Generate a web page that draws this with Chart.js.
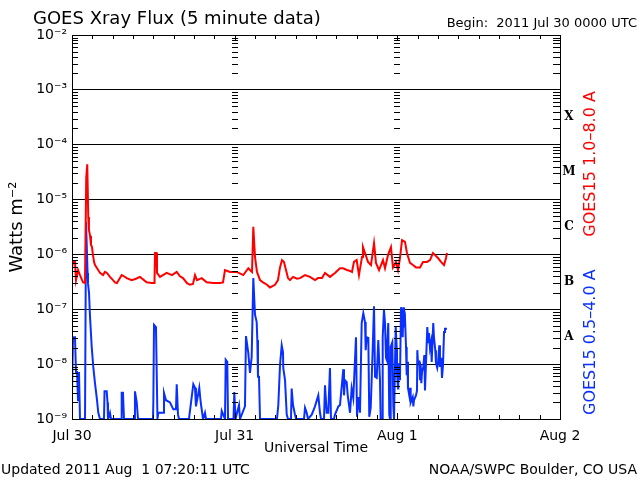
<!DOCTYPE html>
<html>
<head>
<meta charset="utf-8">
<title>GOES Xray Flux</title>
<script src="https://cdn.jsdelivr.net/npm/chart.js@4.4.1/dist/chart.umd.min.js"></script>
<style>
  html, body { margin: 0; padding: 0; background: #ffffff; }
  canvas { display: block; }
</style>
</head>
<body>
<canvas id="xrayChart" width="640" height="480"></canvas>
<script>
/* GOES 15 X-ray flux, 2011 Jul 30 00:00 UTC onward (hours since start) */

const DAY_LABELS = ["Jul 30", "Jul 31", "Aug 1", "Aug 2"];
const DECADES = [-9, -8, -7, -6, -5, -4, -3, -2];
const FLARE_CLASSES = ["A", "B", "C", "M", "X"];

// GOES15 1.0-8.0 A (long channel)
const RED_HOURS = [
  0.0, 0.15, 0.44, 0.59, 0.89, 1.18, 1.62, 1.92, 2.0, 2.1, 2.25, 2.4, 2.5, 2.66, 2.8, 2.95,
  3.1, 3.25, 3.4, 3.7, 4.13, 4.57, 4.87, 5.16, 5.6, 6.05, 6.34, 6.64, 7.33, 7.67, 8.07, 8.81,
  9.44, 10.03, 11.02, 11.76, 12.17, 12.25, 12.47, 12.54, 12.98, 13.97, 14.75, 15.45, 15.93,
  16.38, 16.97, 17.41, 17.85, 18.15, 18.44, 19.14, 19.87, 20.85, 21.84, 22.28, 22.57, 23.31,
  24.3, 25.27, 26.01, 26.26, 26.56, 26.75, 27.0, 27.29, 27.74, 28.18, 28.77, 29.21, 29.95,
  30.39, 30.69, 30.98, 31.28, 31.57, 31.87, 32.16, 32.61, 33.2, 33.64, 34.38, 35.11, 35.85,
  36.29, 36.88, 37.33, 38.06, 38.8, 39.54, 39.98, 40.57, 41.02, 41.31, 41.6, 42.0, 42.34,
  42.79, 42.93, 43.23, 43.67, 44.11, 44.56, 44.85, 45.3, 45.88, 46.18, 46.62, 47.06, 47.36,
  47.8, 48.1, 48.39, 48.69, 49.13, 49.42, 49.87, 50.31, 50.75, 51.34, 51.79, 52.38, 52.82,
  53.26, 53.56, 54.0, 54.44, 54.89, 55.18, 55.33
];
const RED_FLUX = [
  5.6e-7, 7.3e-7, 7.3e-7, 3.4e-7, 5.2e-7, 4.2e-7, 3.1e-7, 3.0e-7, 3.0e-7, 2.5e-5, 4.4e-5, 4.8e-6, 2.8e-6, 2.2e-6, 1.5e-6, 1.36e-6,
  9.7e-7, 7.3e-7, 6.4e-7, 5.6e-7, 4.6e-7, 4.2e-7, 4.8e-7, 4.6e-7, 3.9e-7, 3.4e-7, 3.1e-7, 3.0e-7, 4.2e-7, 4.0e-7, 3.7e-7, 3.4e-7,
  3.6e-7, 3.9e-7, 3.1e-7, 3.0e-7, 3.0e-7, 1.06e-6, 1.06e-6, 4.6e-7, 3.9e-7, 4.6e-7, 4.2e-7, 4.8e-7, 4.0e-7,
  3.7e-7, 3.0e-7, 2.8e-7, 2.9e-7, 4.2e-7, 3.4e-7, 3.7e-7, 3.1e-7, 3.0e-7, 3.0e-7, 3.1e-7, 5.2e-7, 4.8e-7,
  4.8e-7, 4.2e-7, 5.6e-7, 5.2e-7, 4.8e-7, 3.2e-6, 9.0e-7, 4.8e-7, 3.4e-7, 3.1e-7, 2.8e-7, 2.5e-7, 2.8e-7,
  3.4e-7, 5.8e-7, 7.9e-7, 7.3e-7, 5.2e-7, 3.7e-7, 3.4e-7, 3.9e-7, 3.6e-7, 3.7e-7, 4.2e-7, 3.9e-7, 3.4e-7,
  3.7e-7, 3.7e-7, 4.6e-7, 3.9e-7, 4.6e-7, 5.6e-7, 5.6e-7, 5.2e-7, 5.0e-7, 4.8e-7, 7.3e-7, 7.9e-7, 4.2e-7,
  9.0e-7, 1.36e-6, 1.06e-6, 7.3e-7, 6.4e-7, 1.6e-6, 7.0e-7, 5.2e-7, 7.9e-7, 5.6e-7, 9.7e-7, 1.36e-6, 5.8e-7,
  7.3e-7, 5.2e-7, 8.6e-7, 1.83e-6, 1.7e-6, 1.06e-6, 7.0e-7, 6.4e-7, 5.8e-7, 5.8e-7, 7.3e-7, 7.3e-7, 7.9e-7,
  1.06e-6, 9.7e-7, 8.6e-7, 7.3e-7, 6.4e-7, 8.6e-7, 1.06e-6
];

// GOES15 0.5-4.0 A (short channel), floor values sit on 1e-9
const BLUE_HOURS = [
  0.0, 0.15, 0.44, 0.59, 0.74, 0.89, 1.03, 1.18, 1.92, 2.07, 2.3, 2.36, 2.51, 2.66, 2.91, 3.14,
  3.39, 3.69, 3.88, 4.13, 4.72, 4.8, 5.12, 5.24, 5.31, 5.6, 5.75, 7.23, 7.33, 7.52, 7.67, 9.15,
  9.29, 9.55, 9.74, 11.95, 12.0, 12.1, 12.39, 12.5, 12.61, 12.73, 13.43, 13.57, 13.87, 14.46,
  14.95, 15.34, 15.45, 15.64, 15.79, 17.26, 17.3, 17.9, 18.15, 18.29, 18.78, 18.99, 19.33, 19.62,
  19.77, 21.98, 22.09, 22.57, 22.68, 22.91, 23.02, 23.83, 23.95, 24.12, 24.64, 24.79, 25.52,
  25.67, 26.01, 26.26, 26.51, 26.75, 27.0, 27.25, 27.34, 27.44, 27.59, 27.74, 30.24, 30.44,
  30.69, 30.94, 31.13, 31.17, 31.43, 31.68, 31.87, 32.31, 32.41, 32.61, 32.9, 33.05, 34.23,
  34.38, 34.63, 34.82, 35.37, 35.85, 36.34, 36.59, 36.74, 37.18, 37.33, 37.58, 37.81, 38.06,
  38.21, 38.65, 38.8, 39.3, 39.54, 40.03, 40.13, 40.28, 40.53, 40.68, 40.87, 41.02, 41.26,
  41.5, 41.9, 42.05, 42.24, 42.49, 42.74, 42.98, 43.23, 43.33, 43.48, 43.72, 43.86, 44.07,
  44.36, 44.56, 44.71, 44.96, 45.19, 45.44, 45.54, 45.74, 45.84, 46.03, 46.18, 46.33, 46.43,
  46.66, 46.81, 46.92, 47.02, 47.26, 47.41, 47.51, 47.76, 47.91, 47.95, 48.1, 48.14, 48.29,
  48.39, 48.54, 48.69, 48.79, 48.88, 48.98, 49.13, 49.28, 49.38, 49.5, 49.57, 49.76, 49.87,
  49.97, 50.27, 50.36, 50.46, 50.75, 50.9, 50.95, 51.05, 51.24, 51.34, 51.45, 51.54, 51.64,
  51.83, 51.98, 52.08, 52.23, 52.42, 52.57, 52.67, 52.82, 52.97, 53.07, 53.3, 53.41, 53.6,
  53.7, 53.89, 54.0, 54.19, 54.29, 54.48, 54.59, 54.74, 54.89, 55.03, 55.33
];
const BLUE_FLUX = [
  3.0e-9, 3.1e-8, 3.1e-8, 7.2e-9, 7.2e-9, 2.2e-9, 7.2e-9, 1e-9, 1e-9, 3.9e-6, 4.6e-7, 3.0e-7, 2.0e-7, 7.2e-8, 2.05e-8, 8.9e-9,
  4.5e-9, 2.2e-9, 1.3e-9, 1e-9, 1e-9, 3.2e-9, 3.2e-9, 2.0e-9, 1e-9, 1.3e-9, 1e-9, 1e-9, 3.0e-9, 3.0e-9, 1e-9, 1e-9,
  3.2e-9, 2.0e-9, 1e-9, 1e-9, 2.0e-9, 5.2e-8, 4.75e-8, 6.9e-9, 1e-9, 1.3e-9, 1.3e-9, 3.0e-9, 2.2e-9, 2.0e-9,
  1.5e-9, 1.5e-9, 4.3e-9, 1.2e-9, 1e-9, 1e-9, 1.1e-9, 4.3e-9, 3.7e-9, 1.7e-9, 3.7e-9, 2.0e-9, 1e-9, 1.3e-9,
  1e-9, 1e-9, 1.4e-9, 1e-9, 1.2e-8, 1.1e-8, 1e-9, 1e-9, 3.1e-9, 1e-9, 1.8e-9, 1e-9, 1.7e-9,
  3.25e-8, 1.6e-8, 6.9e-9, 1.35e-8, 3.7e-7, 8.0e-8, 5.85e-8, 2.75e-8, 5.9e-9, 5.9e-9, 1e-9, 1e-9, 1.8e-9,
  9.6e-9, 2.2e-8, 1.66e-8, 8.5e-9, 5.1e-9, 1.2e-9, 1e-9, 1e-9, 3.6e-9, 1.8e-9, 1.2e-9, 1e-9, 1e-9,
  1.6e-9, 1.3e-9, 1e-9, 1.2e-9, 1.7e-9, 2.7e-9, 1.3e-9, 1e-9, 1e-9, 4.1e-9, 1.3e-9, 1.3e-9, 8.5e-9,
  1e-9, 1e-9, 1.2e-9, 1.7e-9, 1.8e-9, 8.1e-9, 2.7e-9, 5.1e-9, 4.7e-9, 2.7e-9, 1.8e-9, 1.3e-9, 3.6e-9,
  2.4e-9, 3.1e-8, 1.1e-9, 2.5e-9, 1.3e-9, 5.6e-8, 8.5e-8, 5.85e-8, 1.8e-8, 3.1e-8, 3.0e-8, 1.1e-9, 1.6e-9,
  1.8e-8, 1.14e-7, 5.9e-9, 5.6e-9, 2.75e-8, 5.1e-9, 1.0e-9, 1e-9, 3.1e-8, 9.8e-8, 5.6e-8, 1.3e-8, 1.2e-8,
  5.6e-8, 1.2e-9, 1e-9, 2.05e-8, 2.5e-8, 1.7e-9, 1e-9, 4.75e-8, 1.97e-8, 6.9e-9, 3.6e-9, 6.3e-9, 1.05e-8,
  5.1e-9, 1.09e-7, 8.5e-8, 3.1e-8, 1.09e-7, 5.6e-8, 6.9e-8, 2.05e-8, 6.3e-9, 1.1e-8, 3.7e-9, 2.7e-9, 3.7e-9,
  2.0e-9, 2.5e-9, 1.7e-9, 2.2e-9, 2.7e-9, 3.3e-9, 1.8e-8, 1.05e-8, 1.1e-8, 5.1e-9, 9.6e-9, 4.5e-9, 7.2e-9,
  8.9e-9, 1.47e-8, 3.3e-9, 1.05e-8, 4.75e-8, 2.5e-8, 3.7e-8, 1.97e-8, 2.5e-8, 1.1e-8, 5.6e-8, 3.0e-8, 1.8e-8,
  1.05e-8, 8.5e-9, 1.05e-8, 2.2e-8, 8.9e-9, 1.3e-8, 5.6e-9, 9.6e-9, 3.85e-8, 4.4e-8, 4.4e-8
];

const SUPERSCRIPT = { "-": "\u207B", "0": "\u2070", "1": "\u00B9", "2": "\u00B2", "3": "\u00B3",
  "4": "\u2074", "5": "\u2075", "6": "\u2076", "7": "\u2077", "8": "\u2078", "9": "\u2079" };

function toSuper(n) {
  return String(n).split("").map(ch => SUPERSCRIPT[ch]).join("");
}

function toPoints(hours, flux) {
  return hours.map((h, i) => ({ x: h, y: flux[i] }));
}

/**
 * Plot frame decorations: box, log minor ticks, 3-hour ticks, flare class
 * letters, channel labels and the header / footer text.
 */
const goesFrame = {
  id: "goesFrame",
  afterDraw(chart) {
    const { ctx, chartArea: a, scales } = chart;
    const x = scales.x;
    const y = scales.y;
    ctx.save();
    ctx.strokeStyle = "#000";
    ctx.lineWidth = 1;
    ctx.strokeRect(a.left + 0.5, a.top + 0.5, a.right - a.left, a.bottom - a.top);

    ctx.beginPath();
    // log minor ticks on left / right edges and along day boundaries
    for (let d = -9; d < -2; d++) {
      for (let m = 2; m <= 9; m++) {
        const py = Math.round(y.getPixelForValue(m * Math.pow(10, d))) + 0.5;
        ctx.moveTo(a.left, py); ctx.lineTo(a.left + 6, py);
        ctx.moveTo(a.right - 7, py); ctx.lineTo(a.right, py);
        [24, 48].forEach(h => {
          const px = Math.round(x.getPixelForValue(h));
          ctx.moveTo(px - 3, py); ctx.lineTo(px + 3, py);
        });
      }
    }
    // 3-hour ticks on top and bottom edges
    for (let h = 3; h < 72; h += 3) {
      const px = Math.round(x.getPixelForValue(h)) + 0.5;
      const len = h % 24 === 0 ? 6 : 4;
      ctx.moveTo(px, a.bottom); ctx.lineTo(px, a.bottom - len);
      ctx.moveTo(px, a.top); ctx.lineTo(px, a.top + len);
    }
    ctx.stroke();

    // flare class letters, half way between decades
    ctx.fillStyle = "#000";
    ctx.font = "bold 12px 'DejaVu Serif', 'Liberation Serif', serif";
    ctx.textAlign = "center";
    ctx.textBaseline = "middle";
    FLARE_CLASSES.forEach((c, i) => {
      ctx.fillText(c, a.right + 9, y.getPixelForValue(Math.pow(10, -7.5 + i)));
    });

    // channel labels, rotated
    ctx.font = "16px 'DejaVu Sans', sans-serif";
    const drawVert = (text, color, cy) => {
      ctx.save();
      ctx.translate(a.right + 31, cy);
      ctx.rotate(-Math.PI / 2);
      ctx.fillStyle = color;
      ctx.fillText(text, 0, 0);
      ctx.restore();
    };
    drawVert("GOES15 1.0\u20138.0 A", "#ff0000", y.getPixelForValue(Math.pow(10, -4.35)));
    drawVert("GOES15 0.5\u20134.0 A", "#0a30ff", y.getPixelForValue(Math.pow(10, -7.6)));

    // header
    ctx.fillStyle = "#000";
    ctx.textBaseline = "alphabetic";
    ctx.textAlign = "left";
    ctx.font = "18px 'DejaVu Sans', sans-serif";
    ctx.fillText("GOES Xray Flux (5 minute data)", 33, 24);
    ctx.textAlign = "right";
    ctx.font = "13px 'DejaVu Sans', sans-serif";
    ctx.fillText("Begin:  2011 Jul 30 0000 UTC", 637, 27);

    // footer
    ctx.font = "14px 'DejaVu Sans', sans-serif";
    ctx.textAlign = "left";
    ctx.fillText("Updated 2011 Aug  1 07:20:11 UTC", 1, 474);
    ctx.textAlign = "right";
    ctx.fillText("NOAA/SWPC Boulder, CO USA", 637, 474);
    ctx.restore();
  },
};

function initXrayChart() {
  const ctx = document.getElementById("xrayChart");
  if (!ctx) return;

  new Chart(ctx, {
    type: "line",
    data: {
      datasets: [
        {
          label: "GOES15 1.0-8.0 A",
          data: toPoints(RED_HOURS, RED_FLUX),
          borderColor: "#ff0000",
          borderWidth: 2,
          pointRadius: 0,
          tension: 0,
        },
        {
          label: "GOES15 0.5-4.0 A",
          data: toPoints(BLUE_HOURS, BLUE_FLUX),
          borderColor: "#0a30ff",
          borderWidth: 2,
          pointRadius: 0,
          tension: 0,
        },
      ],
    },
    options: {
      responsive: false,
      animation: false,
      events: [],
      layout: { padding: { left: 0, right: 80, top: 35, bottom: 23 } },
      plugins: {
        legend: { display: false },
        tooltip: { enabled: false },
      },
      scales: {
        x: {
          type: "linear",
          min: 0,
          max: 72,
          afterFit: (s) => { s.height = 38; },
          afterBuildTicks: (s) => { s.ticks = DAY_LABELS.map((_, i) => ({ value: i * 24 })); },
          grid: { display: false },
          border: { display: true, color: "#000" },
          ticks: {
            autoSkip: false,
            maxRotation: 0,
            padding: 1,
            color: "#000",
            font: { size: 14, family: "DejaVu Sans" },
            callback: (v) => DAY_LABELS[Math.round(v / 24)],
          },
          title: {
            display: true,
            text: "Universal Time",
            color: "#000",
            padding: { top: 0, bottom: 0 },
            font: { size: 14, family: "DejaVu Sans" },
          },
        },
        y: {
          type: "logarithmic",
          min: 1e-9,
          max: 1e-2,
          afterFit: (s) => { s.width = 72; },
          afterBuildTicks: (s) => { s.ticks = DECADES.map((d) => ({ value: Math.pow(10, d) })); },
          grid: { color: "#000", lineWidth: 1, drawTicks: false },
          border: { display: true, color: "#000" },
          ticks: {
            padding: 5,
            color: "#000",
            font: { size: 14, family: "DejaVu Sans" },
            callback: (v) => "10" + toSuper(Math.round(Math.log10(v))),
          },
          title: {
            display: true,
            text: "Watts m\u207B\u00B2",
            color: "#000",
            padding: { top: 7, bottom: 0 },
            font: { size: 18, family: "DejaVu Sans" },
          },
        },
      },
    },
    plugins: [goesFrame],
  });
}

initXrayChart();
</script>
</body>
</html>
